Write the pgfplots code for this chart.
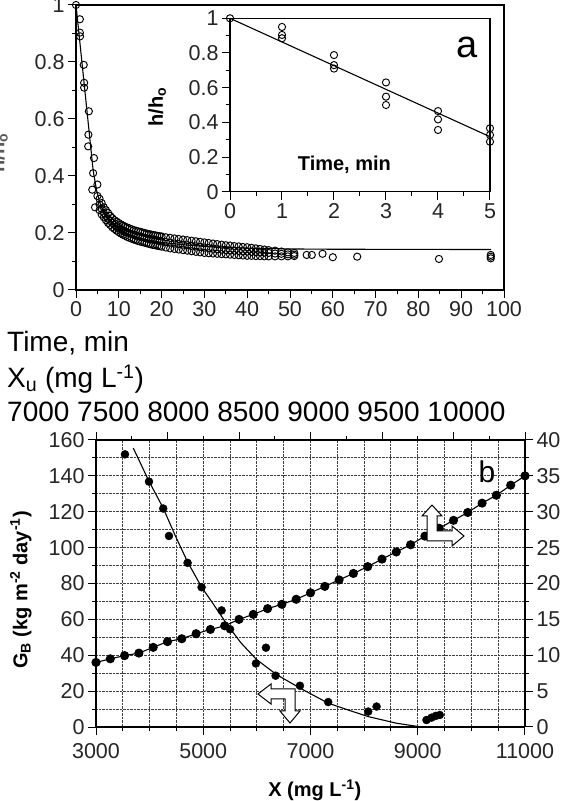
\documentclass[border=0pt]{standalone}
\usepackage{fontspec}
\setmainfont{Liberation Sans}
\usepackage{pgfplots}
\usepackage{pgfplotstable}
\pgfplotsset{compat=1.18}

\newcommand\fs[1]{\fontsize{#1}{#1}\selectfont}

\pgfplotsset{
  sci/.style={scale only axis, tick align=outside,
    major tick length=8pt, minor tick length=4pt,
    axis line style={line width=1.2pt},
    tick style={line width=1pt, black},
    tick label style={font=\fs{21.5}, text=black!85},
    label style={font=\fs{20}\bfseries},
    /pgf/number format/assume math mode=true,
    /pgf/number format/1000 sep={}, scaled ticks=false, clip=false},
  openc/.style={only marks, mark=o, mark size=3.6pt, line width=0.95pt, black},
  fullc/.style={only marks, mark=*, mark size=4pt, black},
}

% dense cloud of panel a: time, upper, middle, lower
\pgfplotstableread{
t a b c
5.5 0.32 0.30 0.28
6.0 0.305 0.285 0.265
6.5 0.29 0.27 0.255
7.0 0.28 0.26 0.245
7.5 0.27 0.25 0.235
8.0 0.26 0.242 0.228
8.5 0.252 0.235 0.22
9.0 0.245 0.228 0.214
9.5 0.24 0.222 0.208
10.0 0.235 0.217 0.203
10.5 0.23 0.213 0.198
11.0 0.226 0.209 0.194
11.5 0.222 0.205 0.19
12.0 0.219 0.202 0.186
12.5 0.216 0.199 0.183
13.0 0.213 0.196 0.18
13.5 0.21 0.194 0.177
14.0 0.208 0.191 0.175
14.5 0.206 0.189 0.172
15.0 0.204 0.187 0.17
15.5 0.202 0.185 0.168
16.0 0.2 0.183 0.166
16.5 0.198 0.181 0.164
17.0 0.196 0.18 0.162
17.5 0.195 0.178 0.16
18.0 0.193 0.177 0.158
18.5 0.192 0.175 0.157
19.0 0.19 0.174 0.155
19.5 0.189 0.172 0.154
20.0 0.188 0.171 0.152
21 0.185 0.168 0.149
22 0.183 0.166 0.146
23 0.181 0.163 0.144
24 0.179 0.161 0.142
25 0.177 0.159 0.14
26 0.175 0.157 0.138
27 0.173 0.155 0.136
28 0.171 0.153 0.134
29 0.169 0.151 0.132
30 0.167 0.149 0.13
31 0.165 0.147 0.129
32 0.163 0.145 0.128
33 0.161 0.143 0.127
34 0.159 0.142 0.126
35 0.157 0.14 0.125
36 0.156 0.139 0.124
37 0.154 0.138 0.123
38 0.153 0.137 0.122
39 0.151 0.136 0.121
40 0.15 0.135 0.12
41 0.148 0.134 0.12
42 0.146 0.133 0.119
43 0.144 0.132 0.119
44 0.142 0.131 0.118
45 0.14 0.13 0.118
46.5 0.138 0.128 0.118
48 0.135 0.127 0.118
49.5 0.132 0.125 0.118
51 0.13 0.124 0.119
}\cloud

\begin{document}
\begin{tikzpicture}
\useasboundingbox (0,0) rectangle (577pt,801pt);
\clip (0,0) rectangle (577pt,801pt);

% ---------- panel a ----------
\begin{axis}[sci, at={(76pt,511pt)}, anchor=south west,
  width=428pt, height=285pt, xmin=0, xmax=100, ymin=0, ymax=1,
  xtick={0,10,...,100}, minor x tick num=1,
  ytick={0,0.2,0.4,0.6,0.8,1}, minor y tick num=1, tick pos=left]
\addplot[openc] coordinates {(0,1.0) (0.9,0.95) (0.9,0.903) (0.95,0.89)
  (1.8,0.79) (1.9,0.727) (1.9,0.71) (3.0,0.627) (2.9,0.545) (2.85,0.504)
  (4.2,0.463) (4.0,0.41) (3.8,0.352) (5.0,0.37) (5.0,0.33) (4.45,0.29)};
\addplot[openc] table[x=t,y=a] {\cloud};
\addplot[openc] table[x=t,y=b] {\cloud};
\addplot[openc] table[x=t,y=c] {\cloud};
\addplot[openc] coordinates {(53.9,0.123) (55.1,0.123) (57.6,0.127) (60,0.115)
  (65.7,0.117) (84.8,0.109) (96.9,0.123) (96.9,0.117) (96.9,0.111)};
\addplot[black, line width=1.1pt] coordinates {(0,1) (1,0.855) (2,0.71) (3,0.565)
  (4,0.42) (4.8,0.35) (5.5,0.31) (6.5,0.27) (8,0.235) (10,0.21) (12,0.195)
  (15,0.18) (20,0.167) (25,0.159) (30,0.153) (40,0.147) (50,0.144) (60,0.143) (97,0.142)};
\end{axis}

\node[rotate=90, anchor=base, font=\fs{20}\bfseries, text=black!65] at (4.5pt,648pt) {h/h\textsubscript{o}};

% inset
\begin{axis}[sci, at={(230pt,609.3pt)}, anchor=south west,
  width=260pt, height=173.4pt, xmin=0, xmax=5, ymin=0, ymax=1,
  xtick={0,...,5}, minor x tick num=1,
  ytick={0,0.2,0.4,0.6,0.8,1}, minor y tick num=1, tick pos=left,
  xlabel={Time, min}, xlabel style={at={(axis description cs:0.44,0.154)}, anchor=center},
  ylabel={h/h\textsubscript{o}}, ylabel style={at={(axis description cs:-0.28,0.49)}, anchor=center}]
\addplot[openc] coordinates {(0,1) (1,0.95) (1,0.904) (1,0.885) (2,0.788) (2,0.73)
  (2,0.71) (3,0.63) (3,0.548) (3,0.5) (4,0.465) (4,0.417) (4,0.356)
  (5,0.366) (5,0.327) (5,0.288)};
\addplot[black, line width=1.1pt] coordinates {(0,1) (5,0.317)};
\end{axis}
\node[font=\fs{38}] at (467pt,754pt) {a};

% overlay text lines
\node[anchor=base west, inner sep=0, font=\fs{28}] at (7pt,449pt) {Time, min};
\node[anchor=base west, inner sep=0, font=\fs{28}] at (7pt,413pt) {X\textsubscript{u} (mg L\textsuperscript{-1})};
\node[anchor=base west, inner sep=0, font=\fs{28}] at (7pt,379pt) {7000 7500 8000 8500 9000 9500 10000};

% ---------- panel b ----------
\begin{axis}[sci, at={(96pt,74pt)}, anchor=south west,
  width=429pt, height=287pt, xmin=3000, xmax=11000, ymin=0, ymax=160,
  axis x line*=bottom, axis y line*=left,
  xtick={3000,5000,7000,9000,11000}, minor x tick num=3,
  xticklabel style={yshift=-5pt},
  ytick={0,20,...,160}, minor y tick num=1,
  grid=both, grid style={black!75, densely dotted, line width=1pt},
  xlabel={X (mg L\textsuperscript{-1})},
  xlabel style={at={(axis description cs:0.51,-0.22)}, anchor=center},
  ylabel={G\textsubscript{B} (kg m\textsuperscript{-2} day\textsuperscript{-1})},
  ylabel style={at={(axis description cs:-0.175,0.477)}, anchor=center}]
\addplot[fullc] coordinates {(3540,152) (3988,136.8) (4254,121.8) (4361,106.5)
  (4708,91.5) (4969,77.9) (5342,65) (5500,54.5) (5982,35.4) (6169,44.2)
  (6349,28.6) (6803,23.0) (7330,13.9) (8076,8.6) (8232,11.4)
  (9163,3.9) (9256,5.2) (9337,6.2) (9411,6.7)};
\addplot[black, line width=1.1pt] coordinates {(3695,155.5) (3988,137) (4254,122)
  (4473,107) (4708,92) (4969,78) (5200,68) (5436,57.5) (5700,47) (5995,37.6)
  (6368,29.2) (6803,21.7) (7330,13.3) (7700,9.5) (8076,5.8) (8605,2.1)
  (9000,0.3) (9100,0) (9766,0)};
\end{axis}

\begin{axis}[sci, at={(96pt,74pt)}, anchor=south west,
  width=429pt, height=287pt, xmin=7000, xmax=10000, ymin=0, ymax=40,
  axis x line*=top, axis y line*=right,
  xtick={7000,7500,...,10000}, minor x tick num=1, xticklabels={},
  ytick={0,5,...,40}, minor y tick num=1]
\addplot[black, line width=1.1pt, mark=*, mark size=4pt] coordinates {
  (7000,9.0) (7100,9.5) (7200,9.95) (7300,10.3) (7400,11.1) (7500,11.9)
  (7600,12.3) (7700,13.0) (7800,13.6) (7900,14.1) (8000,15.0) (8100,15.7)
  (8200,16.5) (8300,17.1) (8400,17.8) (8500,18.7) (8600,19.6) (8700,20.5)
  (8800,21.4) (8900,22.35) (9000,23.4) (9100,24.4) (9200,25.4) (9300,26.6)
  (9400,27.7) (9500,28.8) (9600,29.9) (9700,31.2) (9800,32.3) (9900,33.7)
  (10000,35.0)};
\end{axis}

% block arrows
\draw[fill=white, line width=1pt] (258pt,107pt) -- (271pt,117pt) -- (271pt,112pt)
  -- (295pt,112pt) -- (295pt,90pt) -- (300pt,90pt) -- (290pt,78pt) -- (280pt,90pt)
  -- (285pt,90pt) -- (285pt,102pt) -- (271pt,102pt) -- (271pt,97pt) -- cycle;
\draw[fill=white, line width=1pt] (432pt,296pt) -- (442pt,285pt) -- (437pt,285pt)
  -- (437pt,270pt) -- (452pt,270pt) -- (452pt,275pt) -- (464pt,265pt) -- (452pt,255pt)
  -- (452pt,260pt) -- (427pt,260pt) -- (427pt,285pt) -- (422pt,285pt) -- cycle;
\node[font=\fs{30}] at (487pt,329pt) {b};
\end{tikzpicture}
\end{document}
